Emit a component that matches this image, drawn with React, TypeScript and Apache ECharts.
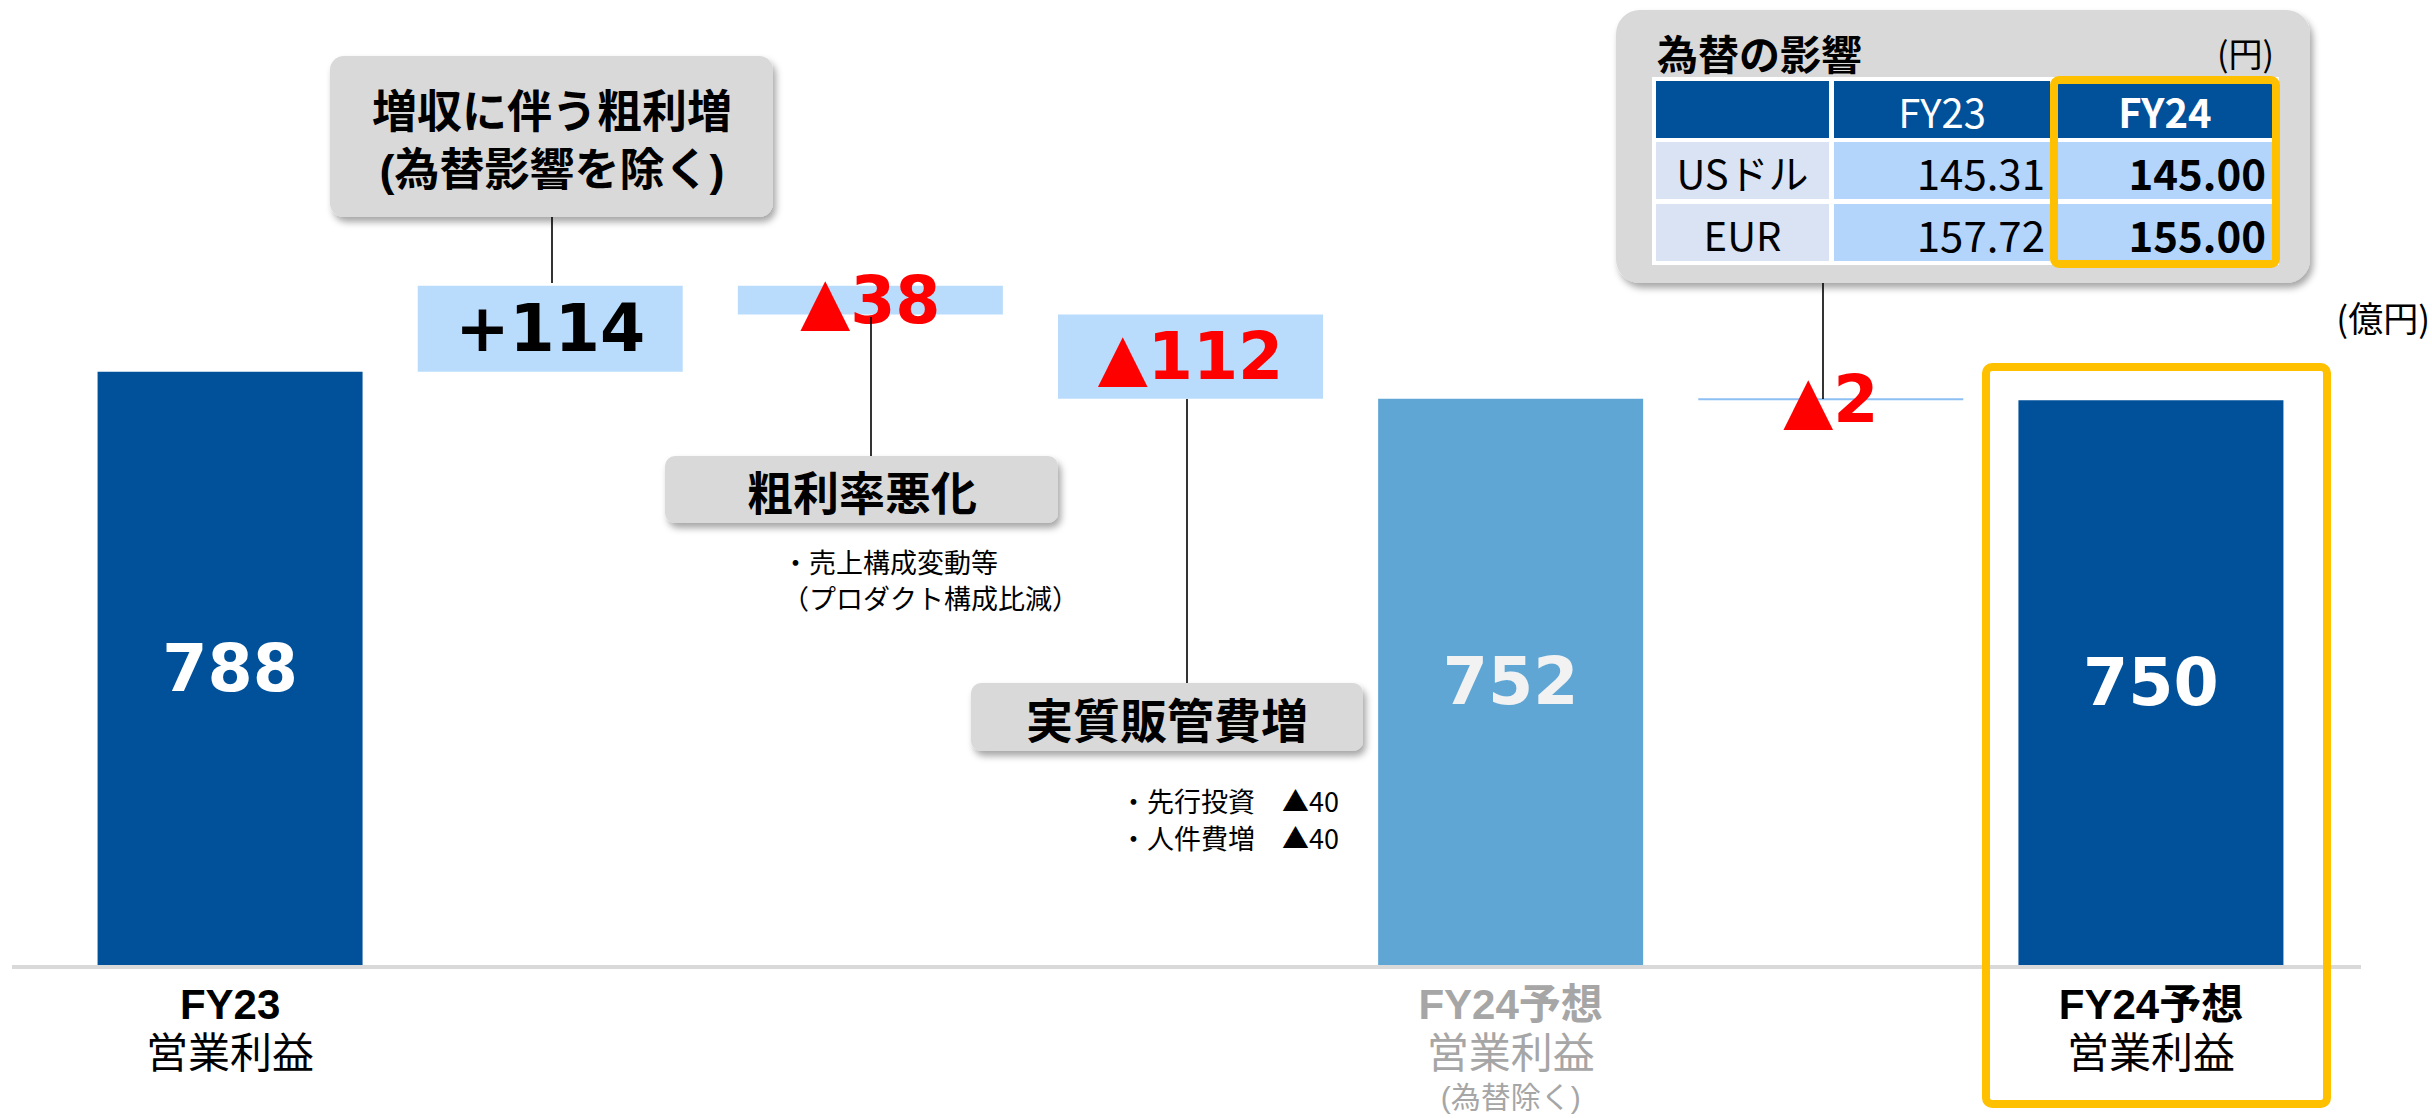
import React, { useEffect, useRef } from "react";
import * as echarts from "echarts";

// ---- data ----
const categories = [
  "FY23 営業利益",
  "増収に伴う粗利増",
  "粗利率悪化",
  "実質販管費増",
  "FY24予想 営業利益(為替除く)",
  "為替の影響",
  "FY24予想 営業利益",
];
const values = [788, 114, -38, -112, 752, -2, 750];
const isTotal = [true, false, false, false, true, false, true];
const valueLabels = ["788", "+114", "▲38", "▲112", "752", "▲2", "750"];

const axisLine1 = ["FY23", "", "", "", "FY24予想", "", "FY24予想"];
const axisLine2 = ["営業利益", "", "", "", "営業利益", "", "営業利益"];
const axisLine3 = ["", "", "", "", "(為替除く)", "", ""];
const axisMuted = [false, false, false, false, true, false, false];

const fxCurrencies = ["USドル", "EUR"];
const fxHeaders = ["FY23", "FY24"];
const fxFY23 = ["145.31", "157.72"];
const fxFY24 = ["145.00", "155.00"];

const notes1 = ["・売上構成変動等", "（プロダクト構成比減）"];
const notes2 = ["・先行投資　▲40", "・人件費増　▲40"];

// ---- styles ----
const DARK = "#00519A";
const MID = "#5FA6D4";
const LIGHT = "#BADCFC";
const barFills = [DARK, LIGHT, LIGHT, LIGHT, MID, "#8DBFF3", DARK];
const labelColors = ["#FFFFFF", "#000000", "#FF0000", "#FF0000", "#F2F2F2", "#FF0000", "#FFFFFF"];
const JP = "'Noto Sans CJK JP', 'Noto Sans', sans-serif";
const AXJP = "'Liberation Sans', 'Noto Sans CJK JP', sans-serif";
const NUM = "'DejaVu Sans', Verdana, sans-serif";

function buildWaterfall() {
  const base: number[] = [];
  const height: number[] = [];
  let running = 0;
  values.forEach((v, i) => {
    if (isTotal[i]) {
      base.push(0);
      height.push(v);
      running = v;
    } else if (v >= 0) {
      base.push(running);
      height.push(v);
      running += v;
    } else {
      running += v;
      base.push(running);
      height.push(-v);
    }
  });
  return { base, height };
}

const shadow = {
  shadowBlur: 7,
  shadowOffsetX: 3,
  shadowOffsetY: 5,
  shadowColor: "rgba(0,0,0,0.35)",
};

function txt(text: string, x: number, y: number, size: number, opts: any = {}) {
  return {
    type: "text",
    x,
    y,
    z: 10,
    style: {
      text,
      fill: opts.fill || "#000",
      fontSize: size,
      fontWeight: opts.bold ? "bold" : "normal",
      fontFamily: opts.family || JP,
      align: opts.align || "center",
      verticalAlign: "middle",
    },
  };
}

function line(x1: number, y1: number, x2: number, y2: number, stroke = "#000", w = 1.6) {
  return { type: "line", z: 5, shape: { x1, y1, x2, y2 }, style: { stroke, lineWidth: w } };
}

function rect(x: number, y: number, w: number, h: number, style: any, r: number = 0, z = 5) {
  return { type: "rect", z, shape: { x, y, width: w, height: h, r }, style };
}

function buildGraphics() {
  const g: any[] = [];
  // baseline
  g.push({ type: "line", z: 0, shape: { x1: 12, y1: 967, x2: 2361, y2: 967 }, style: { stroke: "#D9D9D9", lineWidth: 4 } });

  // annotation 1
  g.push(rect(330, 56, 443, 161, { fill: "#D9D9D9", ...shadow }, 14));
  g.push(txt("増収に伴う粗利増", 552, 112, 45, { bold: true, family: AXJP }));
  g.push(txt("(為替影響を除く)", 552, 170, 45, { bold: true, family: AXJP }));
  g.push(line(552, 217, 552, 283));

  // annotation 2
  g.push(line(871, 317, 871, 456));
  g.push(rect(665, 456, 393, 67, { fill: "#D9D9D9", ...shadow }, 10));
  g.push(txt("粗利率悪化", 862, 490, 46, { bold: true }));
  notes1.forEach((t, i) => g.push(txt(t, 782, 561 + i * 36, 27, { align: "left" })));

  // annotation 3
  g.push(line(1187, 399, 1187, 683));
  g.push(rect(971, 683, 392, 68, { fill: "#D9D9D9", ...shadow }, 10));
  g.push(txt("実質販管費増", 1167, 717, 47, { bold: true }));
  notes2.forEach((t, i) => g.push(txt(t, 1120, 800 + i * 37, 27, { align: "left" })));

  // FX panel
  g.push(line(1823, 283, 1823, 399));
  g.push(rect(1616, 10, 694, 273, { fill: "#D9D9D9", ...shadow }, 24));
  g.push(txt("為替の影響", 1657, 52, 41, { bold: true, align: "left" }));
  g.push(txt("(円)", 2274, 52, 34, { align: "right" }));
  g.push(rect(1652, 77, 627, 188, { fill: "#FFFFFF" }, 0, 6));
  const colX = [1656, 1834, 2055];
  const colW = [173, 216, 220];
  const rowY = [81, 142, 204];
  const rowH = 57;
  for (let c = 0; c < 3; c++) {
    g.push(rect(colX[c], rowY[0], colW[c], rowH, { fill: DARK }, 0, 7));
    for (let r = 1; r < 3; r++) {
      g.push(rect(colX[c], rowY[r], colW[c], rowH, { fill: c === 0 ? "#DAE3F3" : "#B4D5FB" }, 0, 7));
    }
  }
  g.push(txt(fxHeaders[0], colX[1] + colW[1] / 2, rowY[0] + rowH / 2 + 1, 40, { fill: "#FFFFFF" }));
  g.push(txt(fxHeaders[1], colX[2] + colW[2] / 2, rowY[0] + rowH / 2 + 1, 40, { fill: "#FFFFFF", bold: true }));
  fxCurrencies.forEach((cur, i) => {
    const y = rowY[i + 1] + rowH / 2 + 1;
    g.push(txt(cur, colX[0] + colW[0] / 2, y, 40));
    g.push(txt(fxFY23[i], 2045, y, 42, { align: "right" }));
    g.push(txt(fxFY24[i], 2266, y, 42, { align: "right", bold: true }));
  });
  g.push(rect(2054, 80, 222, 184, { fill: "none", stroke: "#FFC000", lineWidth: 8 }, 5, 9));

  // unit label
  g.push(txt("(億円)", 2430, 316, 35, { align: "right" }));

  // highlight frame around FY24 forecast
  g.push(rect(1986, 367, 341, 737, { fill: "none", stroke: "#FFC000", lineWidth: 8 }, 6, 9));
  return g;
}

export default function App() {
  const ref = useRef<HTMLDivElement>(null);
  useEffect(() => {
    if (!ref.current) return;
    const chart = echarts.init(ref.current, undefined, { renderer: "svg" });
    const { base, height } = buildWaterfall();
    chart.setOption({
      animation: false,
      grid: { left: 70, right: 121, top: 212, bottom: 153, containLabel: false, outerBoundsMode: "none" },
      xAxis: {
        type: "category",
        data: categories,
        axisLine: { show: false },
        axisTick: { show: false },
        axisLabel: {
          interval: 0,
          margin: 15,
          formatter: (_v: string, i: number) => {
            const m = axisMuted[i] ? "g" : "";
            const parts: string[] = [];
            if (axisLine1[i]) parts.push(`{${m}b|${axisLine1[i]}}`);
            if (axisLine2[i]) parts.push(`{${m}n|${axisLine2[i]}}`);
            if (axisLine3[i]) parts.push(`{${m}s|${axisLine3[i]}}`);
            return parts.join("\n");
          },
          rich: {
            b: { fontFamily: AXJP, fontSize: 42, fontWeight: "bold", color: "#000", lineHeight: 49 },
            n: { fontFamily: AXJP, fontSize: 42, color: "#000", lineHeight: 49 },
            gb: { fontFamily: AXJP, fontSize: 42, fontWeight: "bold", color: "#A6A6A6", lineHeight: 49 },
            gn: { fontFamily: AXJP, fontSize: 42, color: "#A6A6A6", lineHeight: 49 },
            gs: { fontFamily: AXJP, fontSize: 30, color: "#A6A6A6", lineHeight: 38 },
          },
        },
      },
      yAxis: { type: "value", min: 0, max: 1000, show: false, splitLine: { show: false } },
      series: [
        {
          type: "bar",
          stack: "wf",
          silent: true,
          barWidth: 265,
          itemStyle: { color: "transparent" },
          data: base,
        },
        {
          type: "bar",
          stack: "wf",
          silent: true,
          barWidth: 265,
          barMinHeight: 2,
          data: height.map((h, i) => ({
            value: h,
            itemStyle: { color: barFills[i] },
            label: {
              show: true,
              position: "inside",
              formatter: valueLabels[i],
              color: labelColors[i],
              fontFamily: NUM,
              fontWeight: "bold",
              fontSize: 65,
            },
          })),
        },
      ],
      graphic: buildGraphics(),
    });
    return () => chart.dispose();
  }, []);
  return (
    <div
      ref={ref}
      style={{ position: "absolute", left: 0, top: 0, width: 2432, height: 1118, background: "#fff" }}
    />
  );
}
